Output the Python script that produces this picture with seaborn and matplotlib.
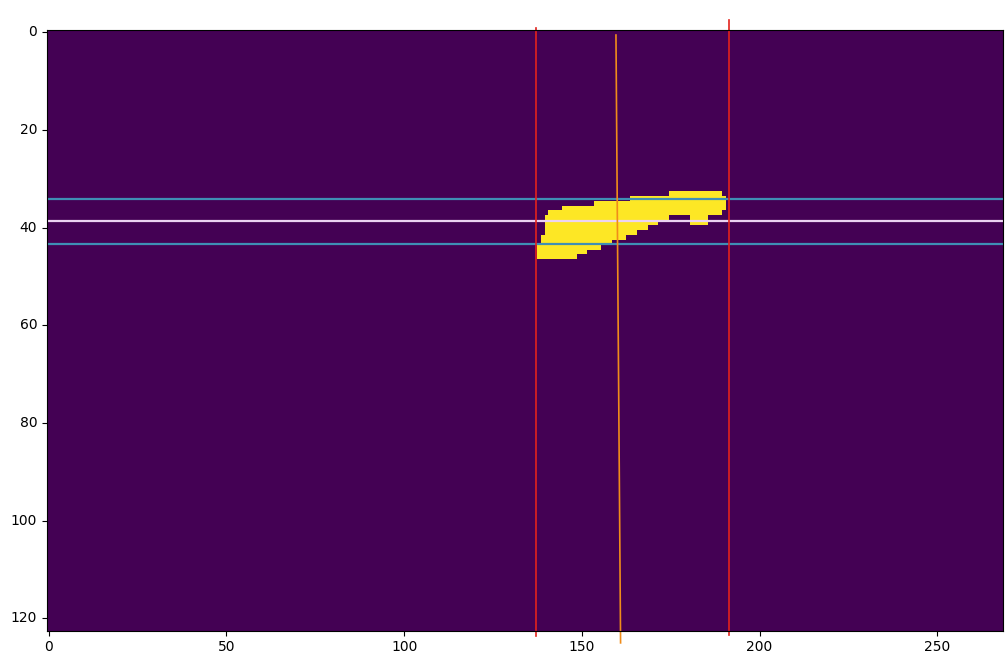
import numpy as np
import matplotlib
matplotlib.use("Agg")
import matplotlib.pyplot as plt
import seaborn as sns

# mask size (rows x cols)
n_rows = 123
n_cols = 269

# yellow blob, one entry per row segment: row, first col, last col
blob_row = [33, 34, 35, 36, 37, 38, 38, 39, 39, 40, 41, 42, 43, 44, 45, 46]
blob_start = [175, 164, 154, 145, 141, 140, 181, 140, 181, 140, 140, 139, 139, 138, 138, 138]
blob_end = [189, 190, 190, 190, 189, 174, 185, 171, 185, 168, 165, 162, 158, 155, 151, 148]

# guide lines (pixel-centre coords, like imshow)
hline_y = [34.1, 38.7, 43.4]
hline_colors = ["#3f8fb5", "#ecd3f2", "#3f8fb5"]
vline_x = [137.1, 191.3]
vline_top = [-0.8, -2.5]
vline_bottom = [123.5, 123.3]
slant_x = [159.6, 160.9]
slant_y = [0.6, 125.0]

xticks = [0, 50, 100, 150, 200, 250]
yticks = [0, 20, 40, 60, 80, 100, 120]

mask = np.zeros((n_rows, n_cols))
for r, a, b in zip(blob_row, blob_start, blob_end):
    mask[r, a:b + 1] = 1

fig = plt.figure(figsize=(10.06, 6.59), dpi=100)
ax = fig.add_axes([0.0467, 0.043, 0.9503, 0.912])
sns.heatmap(mask, cmap="viridis", cbar=False, ax=ax, vmin=0, vmax=1)

# heatmap cells sit at i..i+1, shift by 0.5 to get pixel-centre coords
off = 0.5
ax.set_xticks([t + off for t in xticks])
ax.set_xticklabels([str(t) for t in xticks], rotation=0, fontsize=10)
ax.set_yticks([t + off for t in yticks])
ax.set_yticklabels([str(t) for t in yticks], rotation=0, fontsize=10)
ax.tick_params(length=3.5, width=0.8, direction="out")
for sp in ax.spines.values():
    sp.set_visible(True)
    sp.set_linewidth(0.8)

for y, c in zip(hline_y, hline_colors):
    ax.axhline(y + off, color=c, lw=1.6)
for x, t, b in zip(vline_x, vline_top, vline_bottom):
    ax.plot([x + off, x + off], [t + off, b + off], color="#e3221c", lw=1.2, clip_on=False)
ax.plot([v + off for v in slant_x], [v + off for v in slant_y], color="#f08c1a", lw=1.2, clip_on=False)

ax.set_xlim(0, n_cols)
ax.set_ylim(n_rows, 0)

fig.savefig("out.png", dpi=100)
